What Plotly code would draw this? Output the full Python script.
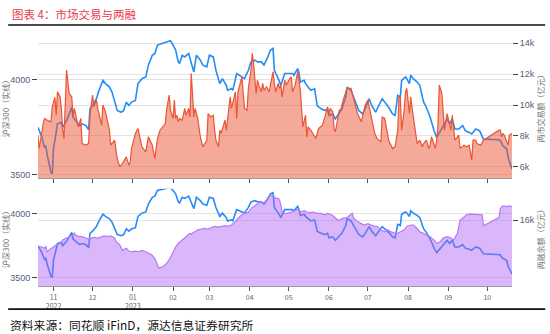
import plotly.graph_objects as go

# 沪深300 收盘（点）
csi_dates = ["2022-10-20","2022-10-23","2022-10-25","2022-10-26","2022-10-27","2022-10-29","2022-10-30","2022-10-31",
             "2022-11-01","2022-11-02","2022-11-04","2022-11-07","2022-11-08","2022-11-11","2022-11-15","2022-11-16",
             "2022-11-18","2022-11-21","2022-11-23","2022-11-26","2022-11-28","2022-11-29","2022-12-01","2022-12-04",
             "2022-12-06","2022-12-09","2022-12-11","2022-12-14","2022-12-16","2022-12-18","2022-12-20","2022-12-23",
             "2022-12-25","2022-12-27","2022-12-29","2022-12-31","2023-01-03","2023-01-05","2023-01-08","2023-01-11",
             "2023-01-13","2023-01-16","2023-01-18","2023-01-20","2023-01-30","2023-02-01","2023-02-03","2023-02-05",
             "2023-02-06","2023-02-08","2023-02-10","2023-02-13","2023-02-15","2023-02-17","2023-02-19","2023-02-22",
             "2023-02-24","2023-02-27","2023-03-01","2023-03-04","2023-03-06","2023-03-09","2023-03-11","2023-03-14",
             "2023-03-15","2023-03-18","2023-03-19","2023-03-22","2023-03-26","2023-03-28","2023-03-31","2023-04-02",
             "2023-04-05","2023-04-07","2023-04-10","2023-04-12","2023-04-15","2023-04-17","2023-04-19","2023-04-20",
             "2023-04-23","2023-04-25","2023-04-28","2023-05-04","2023-05-05","2023-05-08","2023-05-09","2023-05-10",
             "2023-05-13","2023-05-14","2023-05-18","2023-05-21","2023-05-23","2023-05-26","2023-05-29","2023-05-31",
             "2023-06-01","2023-06-04","2023-06-06","2023-06-09","2023-06-11","2023-06-14","2023-06-15","2023-06-18",
             "2023-06-20","2023-06-22","2023-06-24","2023-06-27","2023-06-29","2023-07-02","2023-07-04","2023-07-07",
             "2023-07-09","2023-07-12","2023-07-14","2023-07-17","2023-07-20","2023-07-22","2023-07-24","2023-07-26",
             "2023-07-27","2023-07-30","2023-07-31","2023-08-02","2023-08-03","2023-08-05","2023-08-08","2023-08-10",
             "2023-08-12","2023-08-13","2023-08-15","2023-08-18","2023-08-21","2023-08-23","2023-08-26","2023-08-28",
             "2023-08-31","2023-09-02","2023-09-04","2023-09-06","2023-09-09","2023-09-12","2023-09-14","2023-09-17",
             "2023-09-19","2023-09-22","2023-09-25","2023-09-28","2023-10-10","2023-10-11","2023-10-12","2023-10-13",
             "2023-10-16","2023-10-17","2023-10-20"]
csi_values = [3750,3697,3644,3653,3609,3539,3512,3507,
              3644,3680,3768,3776,3750,3785,3855,3803,
              3785,3759,3768,3759,3736,3847,3864,3900,
              3944,3996,3979,3961,3935,3891,3838,3829,
              3838,3882,3864,3882,3891,3979,4005,4014,
              4076,4128,4137,4181,4204,4181,4155,4093,
              4084,4128,4119,4137,4093,4040,4128,4102,
              4076,4067,4128,4119,4049,3979,4005,3970,
              3944,3952,3944,4032,4014,4005,4049,4093,
              4102,4093,4093,4076,4119,4155,4164,4049,
              4005,3970,4032,4032,4023,4058,4032,3987,
              3996,3979,3944,3952,3864,3847,3838,3847,
              3812,3820,3794,3829,3847,3908,3961,3944,
              3908,3873,3838,3820,3847,3900,3864,3829,
              3855,3900,3882,3855,3820,3812,3917,3908,
              3996,4014,4005,3979,4023,4005,3987,3970,
              3908,3882,3855,3803,3732,3697,3732,3759,
              3794,3768,3794,3741,3741,3759,3732,3723,
              3715,3741,3732,3688,3685,3680,3662,3653,
              3636,3591,3530]

# 两市成交额（亿元）
turnover_dates = ["2022-10-20","2022-10-21","2022-10-24","2022-10-25","2022-10-27","2022-10-30","2022-10-31","2022-11-02",
                  "2022-11-03","2022-11-04","2022-11-06","2022-11-07","2022-11-08","2022-11-09","2022-11-11","2022-11-12",
                  "2022-11-13","2022-11-15","2022-11-16","2022-11-17","2022-11-18","2022-11-20","2022-11-22","2022-11-23",
                  "2022-11-26","2022-11-28","2022-11-29","2022-12-01","2022-12-02","2022-12-04","2022-12-05","2022-12-06",
                  "2022-12-08","2022-12-09","2022-12-11","2022-12-14","2022-12-15","2022-12-18","2022-12-20","2022-12-22",
                  "2022-12-24","2022-12-27","2022-12-29","2022-12-30","2022-12-31","2023-01-03","2023-01-05","2023-01-08",
                  "2023-01-11","2023-01-13","2023-01-16","2023-01-18","2023-01-20","2023-01-22","2023-01-26","2023-01-27",
                  "2023-01-28","2023-01-29","2023-01-30","2023-02-01","2023-02-02","2023-02-03","2023-02-04","2023-02-05",
                  "2023-02-06","2023-02-08","2023-02-10","2023-02-11","2023-02-13","2023-02-14","2023-02-15","2023-02-17",
                  "2023-02-18","2023-02-19","2023-02-20","2023-02-22","2023-02-24","2023-02-27","2023-02-28","2023-03-02",
                  "2023-03-04","2023-03-05","2023-03-06","2023-03-08","2023-03-09","2023-03-10","2023-03-13","2023-03-14",
                  "2023-03-17","2023-03-18","2023-03-21","2023-03-22","2023-03-23","2023-03-26","2023-03-28","2023-03-30",
                  "2023-03-31","2023-04-02","2023-04-03","2023-04-04","2023-04-06","2023-04-07","2023-04-08","2023-04-10",
                  "2023-04-11","2023-04-12","2023-04-14","2023-04-16","2023-04-18","2023-04-19","2023-04-20","2023-04-21",
                  "2023-04-23","2023-04-24","2023-04-25","2023-04-26","2023-04-28","2023-04-29","2023-05-02","2023-05-03",
                  "2023-05-04","2023-05-06","2023-05-08","2023-05-09","2023-05-10","2023-05-12","2023-05-13","2023-05-14",
                  "2023-05-15","2023-05-16","2023-05-18","2023-05-20","2023-05-22","2023-05-24","2023-05-27","2023-05-29",
                  "2023-05-31","2023-06-01","2023-06-02","2023-06-04","2023-06-05","2023-06-06","2023-06-09","2023-06-10",
                  "2023-06-12","2023-06-15","2023-06-18","2023-06-19","2023-06-21","2023-06-23","2023-06-26","2023-06-28",
                  "2023-06-29","2023-07-01","2023-07-03","2023-07-06","2023-07-08","2023-07-11","2023-07-12","2023-07-14",
                  "2023-07-17","2023-07-20","2023-07-22","2023-07-24","2023-07-25","2023-07-26","2023-07-27","2023-07-29",
                  "2023-07-30","2023-07-31","2023-08-02","2023-08-03","2023-08-05","2023-08-08","2023-08-09","2023-08-10",
                  "2023-08-12","2023-08-13","2023-08-15","2023-08-17","2023-08-18","2023-08-19","2023-08-22","2023-08-23",
                  "2023-08-24","2023-08-25","2023-08-27","2023-08-28","2023-08-29","2023-08-31","2023-09-01","2023-09-03",
                  "2023-09-04","2023-09-05","2023-09-06","2023-09-08","2023-09-09","2023-09-10","2023-09-13","2023-09-15",
                  "2023-09-17","2023-09-19","2023-09-20","2023-09-22","2023-09-23","2023-09-26","2023-09-28","2023-10-10",
                  "2023-10-11","2023-10-12","2023-10-13","2023-10-14","2023-10-17","2023-10-18","2023-10-20"]
turnover_values = [8050,7180,8800,9130,9020,8910,9880,10500,
                   9340,10860,10530,9780,8370,7830,12270,11620,
                   10750,10530,9230,9780,9340,8580,9130,7500,
                   7400,7500,9340,10640,9880,10320,9780,9450,
                   8700,10000,9560,8370,7400,7720,6530,5990,
                   6210,6640,6100,6310,7180,8160,8480,7290,
                   6960,7940,7400,6530,7830,8370,8800,9670,
                   10210,10640,9670,9130,10320,9130,9340,8910,
                   9130,9020,9780,9340,9780,9230,12050,9230,
                   9780,9450,9130,7940,7290,7720,9450,9230,
                   9340,8370,7720,7290,8370,8160,9020,8370,
                   10530,9780,10860,9130,10860,11830,9780,9670,
                   11080,12270,13350,12700,10750,11620,11290,10860,
                   11400,10970,11180,10860,11730,12160,11400,10860,
                   11400,11080,11290,10530,11620,11290,11730,11830,
                   10860,11290,12160,11620,10970,8580,9020,9340,
                   7940,8580,8370,8050,7830,8480,8700,9230,
                   9880,9340,9780,9560,8480,8260,9670,9670,
                   10320,11080,11080,10750,10000,9450,8910,9670,
                   10000,10320,9450,8260,7830,7610,9230,9130,
                   7720,7180,7290,8370,10530,10530,8370,9670,
                   10860,11080,9450,10530,9230,7500,7610,7720,
                   7290,7500,7720,7180,7400,7940,7180,7720,
                   8700,11300,10750,9230,8370,9450,9020,8370,
                   9340,8260,7720,7940,8050,7180,7400,7290,
                   7400,6420,7720,7720,7510,7400,7720,8370,
                   8370,7940,8160,8050,7400,8050,8160]

# 两融余额（亿元）
margin_dates = ["2022-10-20","2022-10-23","2022-10-25","2022-10-26","2022-10-27","2022-10-29","2022-10-31","2022-11-03",
                "2022-11-06","2022-11-08","2022-11-11","2022-11-13","2022-11-16","2022-11-17","2022-11-18","2022-11-21",
                "2022-11-23","2022-11-26","2022-11-29","2022-11-30","2022-12-02","2022-12-05","2022-12-08","2022-12-10",
                "2022-12-13","2022-12-15","2022-12-18","2022-12-19","2022-12-22","2022-12-24","2022-12-27","2022-12-29",
                "2022-12-31","2023-01-03","2023-01-05","2023-01-08","2023-01-11","2023-01-13","2023-01-16","2023-01-18",
                "2023-01-20","2023-01-21","2023-01-24","2023-01-27","2023-01-29","2023-02-01","2023-02-03","2023-02-05",
                "2023-02-08","2023-02-10","2023-02-13","2023-02-14","2023-02-15","2023-02-18","2023-02-20","2023-02-23",
                "2023-02-25","2023-02-28","2023-03-03","2023-03-05","2023-03-08","2023-03-10","2023-03-13","2023-03-15",
                "2023-03-18","2023-03-21","2023-03-23","2023-03-26","2023-03-28","2023-03-31","2023-04-02","2023-04-05",
                "2023-04-07","2023-04-10","2023-04-12","2023-04-15","2023-04-17","2023-04-20","2023-04-21","2023-04-23",
                "2023-04-24","2023-04-25","2023-04-26","2023-04-28","2023-04-30","2023-05-03","2023-05-06","2023-05-08",
                "2023-05-10","2023-05-13","2023-05-15","2023-05-18","2023-05-20","2023-05-23","2023-05-26","2023-05-29",
                "2023-05-31","2023-06-03","2023-06-05","2023-06-08","2023-06-10","2023-06-12","2023-06-15","2023-06-18",
                "2023-06-19","2023-06-20","2023-06-23","2023-06-26","2023-06-28","2023-07-01","2023-07-03","2023-07-06",
                "2023-07-08","2023-07-11","2023-07-14","2023-07-16","2023-07-19","2023-07-22","2023-07-24","2023-07-26",
                "2023-07-29","2023-07-31","2023-08-03","2023-08-05","2023-08-08","2023-08-10","2023-08-13","2023-08-15",
                "2023-08-18","2023-08-21","2023-08-23","2023-08-26","2023-08-28","2023-08-31","2023-09-03","2023-09-05",
                "2023-09-06","2023-09-08","2023-09-10","2023-09-13","2023-09-15","2023-09-18","2023-09-20","2023-09-23",
                "2023-09-26","2023-09-27","2023-09-28","2023-10-10","2023-10-11","2023-10-13","2023-10-16","2023-10-18",
                "2023-10-20"]
margin_values = [15620,15610,15590,15620,15540,15570,15590,15640,
                 15660,15710,15740,15760,15780,15810,15780,15760,
                 15760,15740,15710,15740,15750,15740,15760,15770,
                 15760,15770,15740,15690,15640,15560,15590,15550,
                 15540,15550,15540,15560,15540,15520,15490,15440,
                 15350,15300,15320,15370,15420,15540,15610,15660,
                 15710,15740,15780,15810,15800,15830,15860,15870,
                 15880,15870,15890,15910,15900,15910,15920,15910,
                 15930,15980,16030,16080,16100,16120,16170,16220,
                 16240,16270,16250,16320,16370,16340,16320,16320,
                 16290,16220,16120,16100,16100,16120,16140,16160,
                 16120,16140,16120,16110,16120,16100,16100,16080,
                 16100,16080,16050,16000,16010,16030,16040,16080,
                 16100,16030,15980,15950,15930,15950,15930,15910,
                 15910,15860,15830,15860,15830,15810,15810,15830,
                 15860,15910,15930,15930,15880,15830,15810,15780,
                 15760,15710,15660,15690,15740,15760,15740,15710,
                 15740,15810,16000,16050,16080,16090,16090,16090,
                 16090,16080,15920,16040,16170,16210,16200,16210,
                 16200]

month_ticks = ["2022-11-01","2022-12-01","2023-01-01","2023-02-01","2023-03-01","2023-04-01",
               "2023-05-01","2023-06-01","2023-07-01","2023-08-01","2023-09-01","2023-10-01"]
month_labels = ["11<br>2022","12","01<br>2023","02","03","04","05","06","07","08","09","10"]

CJK = "Noto Sans CJK SC"
NUM = "Liberation Sans, Arial, sans-serif"
BLUE = "rgb(38,140,245)"
RED = "rgb(236,84,52)"
RED_FILL = "rgba(236,84,52,0.5)"
PURPLE = "rgb(184,120,246)"
PURPLE_FILL = "rgba(172,96,244,0.45)"
GRID = "#e2e2e2"
TICKC = "#55607a"

fig = go.Figure()
# upper panel: index (left) + turnover area (right, drawn on top)
fig.add_trace(go.Scatter(x=csi_dates, y=csi_values, mode="lines", line=dict(color=BLUE, width=1.6),
                         xaxis="x", yaxis="y", showlegend=False, hoverinfo="skip"))
fig.add_trace(go.Scatter(x=turnover_dates, y=turnover_values, mode="lines", fill="tozeroy",
                         fillcolor=RED_FILL, line=dict(color=RED, width=1.2),
                         xaxis="x", yaxis="y2", showlegend=False, hoverinfo="skip"))
# lower panel: index (left) + margin balance area (right, drawn on top)
fig.add_trace(go.Scatter(x=csi_dates, y=csi_values, mode="lines", line=dict(color=BLUE, width=1.6),
                         xaxis="x2", yaxis="y3", showlegend=False, hoverinfo="skip"))
fig.add_trace(go.Scatter(x=margin_dates, y=margin_values, mode="lines", fill="tozeroy",
                         fillcolor=PURPLE_FILL, line=dict(color=PURPLE, width=1.2),
                         xaxis="x2", yaxis="y4", showlegend=False, hoverinfo="skip"))

xrange = ["2022-10-20", "2023-10-20"]
xcommon = dict(range=xrange, type="date", tickvals=month_ticks, ticktext=month_labels,
               ticks="outside", ticklen=4, tickwidth=1.3, tickcolor="#555",
               showline=True, linecolor="#9a9a9a", linewidth=1.3, showgrid=False, zeroline=False,
               tickfont=dict(family=CJK, size=7, color="#666"))
ycommon = dict(ticks="outside", ticklen=5, tickwidth=1, tickcolor="#444", showline=False,
               zeroline=False, showgrid=True, gridcolor=GRID, gridwidth=1,
               tickfont=dict(family=NUM, size=9, color=TICKC))
title_font = dict(family=CJK, size=8, color="#777")

fig.update_layout(
    width=550, height=334,
    margin=dict(l=38, r=38, t=35, b=48),
    paper_bgcolor="white", plot_bgcolor="white",
    xaxis=dict(xcommon, anchor="y", showticklabels=False, domain=[0, 1]),
    xaxis2=dict(xcommon, anchor="y3", matches="x", domain=[0, 1]),
    yaxis=dict(ycommon, domain=[0.4303, 1], range=[3484, 4234], tickvals=[3500, 4000],
               title=dict(text="沪深300（实线）", font=title_font, standoff=3), automargin=False),
    yaxis2=dict(ycommon, overlaying="y", side="right", anchor="x", range=[5270, 14540],
                dtick=2000, tickformat="~s",
                title=dict(text="两市交易额（亿元）", font=title_font, standoff=3), automargin=False),
    yaxis3=dict(ycommon, domain=[0, 0.3876], anchor="x2", range=[3437, 4195], tickvals=[3500, 4000],
                title=dict(text="沪深300（实线）", font=title_font, standoff=3), automargin=False),
    yaxis4=dict(ycommon, overlaying="y3", side="right", anchor="x2", range=[15040, 16460],
                tickvals=[16000], tickformat="~s",
                title=dict(text="两融余额（亿元）", font=title_font, standoff=3), automargin=False),
)

# header, rules and source note
fig.add_annotation(text="图表 4：市场交易与两融", xref="paper", yref="paper", x=-0.06, y=1.084,
                   xanchor="left", yanchor="middle", showarrow=False,
                   font=dict(family=CJK, size=11.5, color="#e8384f"))
fig.add_annotation(text="资料来源：同花顺 iFinD，源达信息证券研究所", xref="paper", yref="paper",
                   x=-0.064, y=-0.155, xanchor="left", yanchor="middle", showarrow=False,
                   font=dict(family=CJK, size=11.8, color="#111"))
fig.add_shape(type="line", xref="paper", yref="paper", x0=-0.063, x1=1.07, y0=1.04, y1=1.04,
              line=dict(color="#111", width=1.6))
fig.add_shape(type="line", xref="paper", yref="paper", x0=-0.063, x1=1.07, y0=-0.092, y1=-0.092,
              line=dict(color="#111", width=1.8))

fig.write_html("out.html")
